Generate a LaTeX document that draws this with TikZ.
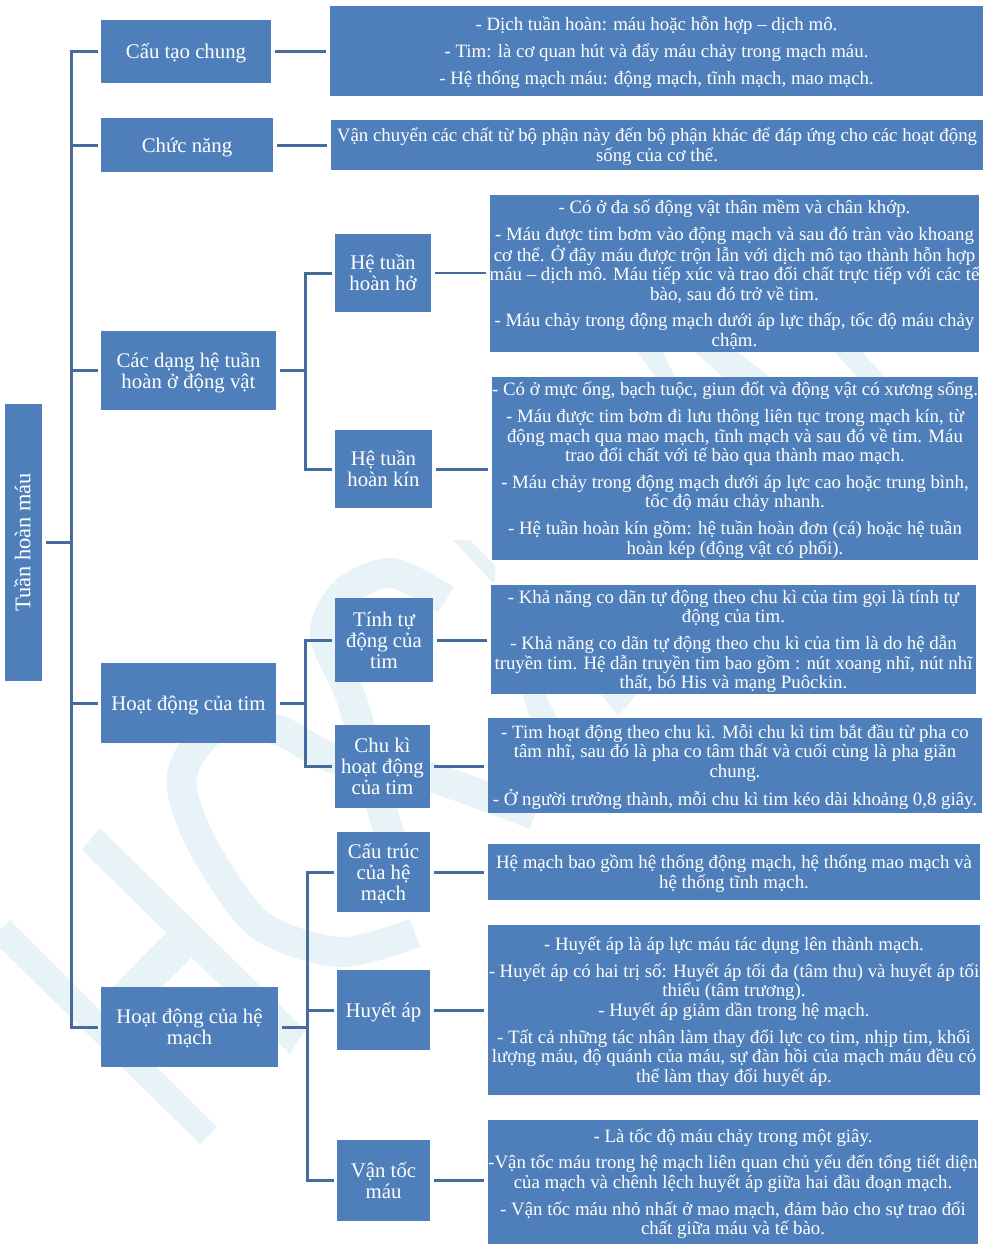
\documentclass[tikz,border=0pt]{standalone}
\usepackage{fontspec}
\setmainfont{Liberation Serif}
\definecolor{boxblue}{HTML}{4F7FBA}
\definecolor{linkblue}{HTML}{466C9F}
\definecolor{markblue}{HTML}{E8F3F8}
\newcommand{\headtext}[1]{\rule[-5pt]{0pt}{24pt}#1\rule[-5pt]{0pt}{5pt}}
\newcommand{\bodytext}[1]{\rule[-5pt]{0pt}{23pt}#1\rule[-5pt]{0pt}{5pt}}
\tikzset{
  mapbox/.style={rectangle,fill=boxblue,text=white,align=center,inner sep=0pt,outer sep=0pt},
  headbox/.style={mapbox,font=\fontsize{20.8}{21}\selectfont},
  textbox/.style={mapbox,font=\fontsize{18.85}{19.6}\selectfont},
  link/.style={draw=linkblue,line width=3pt},
  stub/.style={link,shorten <=4pt,shorten >=4pt},
  branch/.style={link,shorten >=3pt},
  markfill/.style={fill=markblue,draw=none},
  markband/.style={draw=markblue,line width=30pt}
}
\begin{document}
\begin{tikzpicture}[x=1pt,y=-1pt]
\useasboundingbox (0,0) rectangle (984,1250);
\fill[markfill] (10,920) -- (217,1127) -- (200,1144) -- (0,948) -- (0,930) -- cycle;
\fill[markfill] (100,828) -- (305,1030) -- (290,1054) -- (82,850) -- cycle;
\fill[markfill] (167,932) -- (192,957) -- (130,1020) -- (105,995) -- cycle;
\fill[markfill] (638,352) -- (663,352) -- (675,377) -- (655,377) -- cycle;
\fill[markfill] (695,352) -- (738,352) -- (770,377) -- (723,377) -- cycle;
\fill[markfill] (835,352) -- (862,352) -- (885,377) -- (857,377) -- cycle;
\fill[markfill] (522,693) -- (545,693) -- (557,718) -- (530,718) -- cycle;
\fill[markfill] (600,693) -- (638,693) -- (618,716) -- cycle;
\fill[markfill] (453,540) -- (470,540) -- (495,565) -- (495,582) -- (492,582) -- cycle;
\draw[markband] plot[smooth] coordinates {(446,600) (392,573) (345,592) (325,635) (352,700) (385,820) (410,900)};
\draw[markband] plot[smooth] coordinates {(535,815) (433,778) (333,758) (280,731) (225,722) (190,755) (182,790) (205,850) (260,925) (340,952) (415,933)};

\node[headbox,font=\fontsize{22.4}{23}\selectfont,rotate=90,minimum width=277pt,minimum height=37pt] (root) at (23.5,542.5) {\headtext{Tuần hoàn máu}};

\node[headbox,minimum width=170pt,minimum height=63pt] (cautao) at (186,51.5) {\headtext{Cấu tạo chung}};
\node[headbox,minimum width=172pt,minimum height=54pt] (chucnang) at (187,145) {\headtext{Chức năng}};
\node[headbox,minimum width=175pt,minimum height=79pt] (cacdang) at (188.5,370.5) {\headtext{Các dạng hệ tuần\\hoàn ở động vật}};
\node[headbox,minimum width=175pt,minimum height=80pt] (hdtim) at (188.5,703) {\headtext{Hoạt động của tim}};
\node[headbox,minimum width=177pt,minimum height=80pt] (hdmach) at (189.5,1027) {\headtext{Hoạt động của hệ\\mạch}};

\node[headbox,minimum width=96pt,minimum height=78pt] (hoanho) at (383,273) {\headtext{Hệ tuần\\hoàn hở}};
\node[headbox,minimum width=97pt,minimum height=78pt] (hoankin) at (383.5,469) {\headtext{Hệ tuần\\hoàn kín}};
\node[headbox,minimum width=98pt,minimum height=84pt] (tinhtu) at (384,640) {\headtext{Tính tự\\động của\\tim}};
\node[headbox,minimum width=95pt,minimum height=83pt] (chuki) at (382.5,766.5) {\headtext{Chu kì\\hoạt động\\của tim}};
\node[headbox,minimum width=93pt,minimum height=80pt] (cautruc) at (383.5,872) {\headtext{Cấu trúc\\của hệ\\mạch}};
\node[headbox,minimum width=93pt,minimum height=80pt] (huyetap) at (383.5,1010) {\headtext{Huyết áp}};
\node[headbox,minimum width=93pt,minimum height=81pt] (vantoc) at (383.5,1180.5) {\headtext{Vận tốc\\máu}};

\node[textbox,minimum width=653pt,minimum height=90pt] (tcautao) at (656.5,51) {\bodytext{- Dịch tuần hoàn: máu hoặc hỗn hợp – dịch mô.\\[7pt]- Tim: là cơ quan hút và đẩy máu chảy trong mạch máu.\\[7pt]- Hệ thống mạch máu: động mạch, tĩnh mạch, mao mạch.}};
\node[textbox,minimum width=652pt,minimum height=50pt] (tchucnang) at (657,145) {\bodytext{Vận chuyển các chất từ bộ phận này đến bộ phận khác để đáp ứng cho các hoạt động\\sống của cơ thể.}};
\node[textbox,minimum width=489pt,minimum height=157pt] (thoanho) at (734.5,273.5) {\bodytext{- Có ở đa số động vật thân mềm và chân khớp.\\[7pt]- Máu được tim bơm vào động mạch và sau đó tràn vào khoang\\cơ thể. Ở đây máu được trộn lẫn với dịch mô tạo thành hỗn hợp\\máu – dịch mô. Máu tiếp xúc và trao đổi chất trực tiếp với các tế\\bào, sau đó trở về tim.\\[7pt]- Máu chảy trong động mạch dưới áp lực thấp, tốc độ máu chảy\\chậm.}};
\node[textbox,minimum width=486pt,minimum height=183pt] (thoankin) at (735,468.5) {\bodytext{- Có ở mực ống, bạch tuộc, giun đốt và động vật có xương sống.\\[7pt]- Máu được tim bơm đi lưu thông liên tục trong mạch kín, từ\\động mạch qua mao mạch, tĩnh mạch và sau đó về tim. Máu\\trao đổi chất với tế bào qua thành mao mạch.\\[7pt]- Máu chảy trong động mạch dưới áp lực cao hoặc trung bình,\\tốc độ máu chảy nhanh.\\[7pt]- Hệ tuần hoàn kín gồm: hệ tuần hoàn đơn (cá) hoặc hệ tuần\\hoàn kép (động vật có phổi).}};
\node[textbox,minimum width=485pt,minimum height=107pt] (ttinhtu) at (733.5,639.5) {\bodytext{- Khả năng co dãn tự động theo chu kì của tim gọi là tính tự\\động của tim.\\[7pt]- Khả năng co dãn tự động theo chu kì của tim là do hệ dẫn\\truyền tim. Hệ dẫn truyền tim bao gồm : nút xoang nhĩ, nút nhĩ\\thất, bó His và mạng Puôckin.}};
\node[textbox,minimum width=494pt,minimum height=95pt] (tchuki) at (735,765.5) {\bodytext{- Tim hoạt động theo chu kì. Mỗi chu kì tim bắt đầu từ pha co\\tâm nhĩ, sau đó là pha co tâm thất và cuối cùng là pha giãn\\chung.\\[7pt]- Ở người trưởng thành, mỗi chu kì tim kéo dài khoảng 0,8 giây.}};
\node[textbox,minimum width=492pt,minimum height=56pt] (tcautruc) at (734,872) {\bodytext{Hệ mạch bao gồm hệ thống động mạch, hệ thống mao mạch và\\hệ thống tĩnh mạch.}};
\node[textbox,minimum width=492pt,minimum height=170pt] (thuyetap) at (734,1010) {\bodytext{- Huyết áp là áp lực máu tác dụng lên thành mạch.\\[7pt]- Huyết áp có hai trị số: Huyết áp tối đa (tâm thu) và huyết áp tối\\thiểu (tâm trương).\\- Huyết áp giảm dần trong hệ mạch.\\[7pt]- Tất cả những tác nhân làm thay đổi lực co tim, nhịp tim, khối\\lượng máu, độ quánh của máu, sự đàn hồi của mạch máu đều có\\thể làm thay đổi huyết áp.}};
\node[textbox,minimum width=490pt,minimum height=124pt] (tvantoc) at (733,1182) {\bodytext{- Là tốc độ máu chảy trong một giây.\\[7pt]-Vận tốc máu trong hệ mạch liên quan chủ yếu đến tổng tiết diện\\của mạch và chênh lệch huyết áp giữa hai đầu đoạn mạch.\\[7pt]- Vận tốc máu nhỏ nhất ở mao mạch, đảm bảo cho sự trao đổi\\chất giữa máu và tế bào.}};

\coordinate (busa) at (71,542.5);
\coordinate (busb) at (305,370.5);
\coordinate (busc) at (305,703);
\coordinate (busd) at (307,1027);

\draw[link,shorten <=4pt] (root.south) -- (busa);
\foreach \name in {cautao,chucnang,cacdang,hdtim,hdmach}
  \draw[branch] (busa) |- (\name.west);
\draw[link,shorten <=4pt] (cacdang.east) -- (busb);
\draw[link,shorten <=4pt] (hdtim.east) -- (busc);
\draw[link,shorten <=4pt] (hdmach.east) -- (busd);
\foreach \name in {hoanho,hoankin}
  \draw[branch] (busb) |- (\name.west);
\foreach \name in {tinhtu,chuki}
  \draw[branch] (busc) |- (\name.west);
\foreach \name in {cautruc,huyetap,vantoc}
  \draw[branch] (busd) |- (\name.west);
\foreach \from/\to in {cautao/tcautao,chucnang/tchucnang,hoankin/thoankin,tinhtu/ttinhtu,chuki/tchuki,cautruc/tcautruc,huyetap/thuyetap,vantoc/tvantoc}
  \draw[stub] (\from.east) -- (\from.east -| \to.west);
\draw[stub,line width=1.5pt] (hoanho.east) -- (hoanho.east -| thoanho.west);
\end{tikzpicture}
\end{document}
